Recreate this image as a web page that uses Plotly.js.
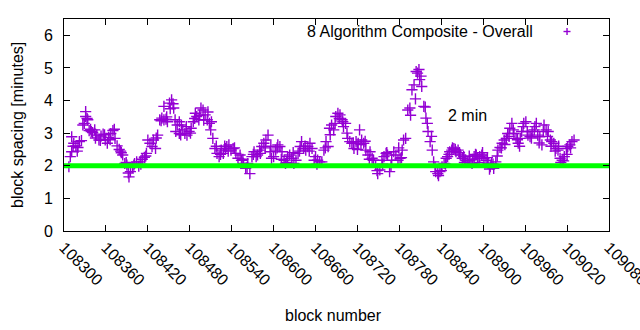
<!DOCTYPE html>
<html>
<head>
<meta charset="utf-8">
<script src="https://cdn.plot.ly/plotly-3.0.1.min.js"></script>
<style>html,body{margin:0;padding:0;background:#fff;}#chart{width:640px;height:330px;}</style>
</head>
<body>
<div id="chart"></div>
<script>
// block numbers and block spacing [minutes]
const blocks = [
108307,108309,108311,108311,108314,108317,108320,108322,108325,108327,108329,108331,108331,108334,108336,108339,108341,108344,108347,108350,108353,108356,108359,108362,108364,108367,108370,108373,108376,108379,108382,108384,108387,108390,108393,108395,108398,108401,108404,108407,108409,108412,108415,108418,108420,
108423,108426,108428,108431,108434,108437,108440,108443,108443,108446,108448,108451,108454,108457,108459,108462,108465,108465,108468,108470,108473,108476,108479,108482,108485,108488,108490,108493,108496,108499,108502,108505,108508,108510,108513,108516,108519,108522,108525,108528,108531,108533,108536,108539,108542,
108546,108549,108552,108554,108557,108560,108563,108566,108569,108572,108575,108577,108580,108583,108586,108589,108592,108595,108597,108600,108603,108606,108609,108612,108615,108617,108620,108623,108626,108629,108632,108635,108638,108640,108643,108646,108649,108652,108655,108658,108660,108663,108666,
108669,108672,108675,108678,108680,108683,108686,108689,108692,108695,108698,108700,108703,108706,108709,108712,108715,108718,108721,108723,108726,108729,108732,108735,108738,108741,108743,108746,108749,108752,108755,108758,108761,108763,108766,108769,108772,108775,108778,108781,108784,108786,108789,
108792,108795,108798,108801,108804,108806,108809,108812,108815,108818,108821,108824,108827,108829,108832,108835,108838,108841,108844,108847,108849,108852,108855,108858,108861,108864,108867,108870,108872,108875,108878,108881,108884,108887,108890,108892,108895,108898,108901,108904,108907,108910,108912,
108915,108918,108921,108924,108927,108930,108933,108935,108938,108941,108944,108947,108950,108953,108955,108958,108961,108964,108967,108970,108973,108976,108978,108981,108984,108987,108990,108993,108996,108998,109001,109004,109007,109010,109013,109016,109019,109021,109024,109027,109030
];
const spacing = [
1.97,2.28,2.43,2.89,2.69,2.61,2.56,2.74,2.77,3.25,3.30,3.51,3.66,3.41,3.08,3.05,3.02,3.10,2.94,2.79,2.91,2.97,2.79,2.69,2.87,2.99,3.08,2.84,2.61,2.50,2.40,2.33,2.07,2.02,1.66,1.82,1.95,2.07,2.12,1.99,2.12,2.20,2.26,2.38,2.79,
2.69,2.59,2.79,2.53,2.94,3.41,3.46,3.41,3.82,3.43,3.35,3.92,4.02,3.77,3.41,3.25,2.99,3.35,3.25,3.10,2.99,2.94,3.05,3.15,3.35,3.61,3.51,3.41,3.77,3.71,3.56,3.41,3.30,3.10,2.84,2.53,2.38,2.28,2.48,2.38,2.53,2.59,2.64,2.48,2.53,
2.38,2.23,2.33,2.17,2.07,1.92,2.07,1.76,2.28,2.43,2.28,2.33,2.48,2.59,2.69,2.79,2.94,2.43,2.23,2.28,2.48,2.64,2.59,2.43,2.17,2.07,2.28,2.33,2.23,2.07,2.17,2.38,2.59,2.74,2.53,2.48,2.59,2.69,2.53,2.17,2.28,2.17,2.12,
2.12,2.48,2.74,2.59,3.15,3.25,3.10,3.51,3.61,3.56,3.41,3.20,3.30,2.84,2.74,2.69,2.53,2.74,2.69,3.10,2.79,2.69,2.48,2.33,2.43,2.23,2.17,2.02,1.76,1.87,2.17,2.28,2.38,2.33,1.82,2.17,2.43,2.33,2.17,2.23,2.48,2.79,2.84,
3.71,3.77,4.33,4.48,4.89,4.84,4.64,4.43,3.82,3.46,3.05,2.74,2.48,2.12,1.82,1.76,1.82,1.97,2.07,2.23,2.28,2.43,2.48,2.53,2.43,2.48,2.33,2.23,2.28,2.17,2.12,2.17,2.07,2.28,2.33,2.23,2.28,2.33,2.23,2.17,2.07,1.97,2.07,
1.92,2.12,2.48,2.56,2.69,2.79,2.84,2.99,3.15,3.30,2.99,2.84,2.69,2.84,3.05,3.30,3.35,2.94,2.89,3.05,3.10,3.30,2.94,2.89,2.64,3.25,3.10,3.05,2.79,2.74,2.69,2.53,2.48,2.23,2.17,2.28,2.53,2.59,2.64,2.74,2.79
];
// additional scattered points of the same series
const extraBlocks = [
108313,108319,108333,108338,108345,108352,108358,108366,108372,108381,108389,108392,108400,108410,108417,108432,108439,108447,108452,108456,108460,108467,108475,108481,108487,108494,108500,108506,108511,108518,108524,108530,108535,108544,
108556,108562,108571,108581,108588,108596,108605,108611,108619,108628,108637,108645,108651,108662,108674,108681,108688,108694,108699,108705,108714,108720,108725,108731,108737,108748,108756,108762,108768,108779,108783,
108796,108803,108808,108811,108817,108820,108826,108831,108836,108840,108846,108851,108856,108860,108866,108873,108880,108885,108889,108894,108899,108906,108909,108914,108920,108926,108931,108937,108943,108949,108952,108957,108963,108969,108974,108980,108986,108992,108997,109003,109008,109011,109015,109020,109025
];
const extraSpacing = [
2.60,2.45,3.45,3.12,2.85,2.78,2.95,2.80,3.12,2.45,2.10,1.78,2.02,2.05,2.30,2.85,3.38,3.50,3.75,3.90,3.05,2.95,3.20,3.00,3.45,3.55,3.40,3.65,3.35,2.60,2.35,2.60,2.45,2.55,
2.20,1.95,2.35,2.38,2.55,2.60,2.55,2.20,2.10,2.40,2.45,2.60,2.45,2.05,2.55,2.95,3.30,3.45,3.35,3.00,2.70,2.50,2.65,2.75,2.20,1.85,2.05,2.40,2.00,2.55,2.25,
3.55,4.05,4.95,4.75,3.80,3.30,2.90,1.95,1.70,1.85,2.05,2.35,2.55,2.50,2.40,2.10,2.30,2.20,2.35,2.10,2.40,2.25,1.90,2.05,2.30,2.55,2.65,2.90,3.10,2.80,2.60,3.20,3.05,2.85,3.20,2.70,3.05,2.90,2.60,2.45,2.60,2.10,2.15,2.35,2.55
];
// 2-minute reference line
const refBlocks = [108300, 109080];
const refSpacing = [2, 2];
// x tick labels
const xTicks = [108300,108360,108420,108480,108540,108600,108660,108720,108780,108840,108900,108960,109020,109080];

const seriesName = "8 Algorithm Composite - Overall";
const refLabel = "2 min";
const xTitle = "block number";
const yTitle = "block spacing [minutes]";

const purple = "#9400d3";
const font = {family: "Liberation Sans, Arial, sans-serif", size: 16, color: "#000"};

const traces = [
  {
    x: blocks.concat(extraBlocks),
    y: spacing.concat(extraSpacing),
    type: "scatter", mode: "markers", name: seriesName,
    marker: {symbol: "cross-thin-open", size: 8, color: purple, line: {color: purple, width: 1.4}},
    showlegend: false, hoverinfo: "skip", cliponaxis: true
  },
  {
    x: refBlocks, y: refSpacing, type: "scatter", mode: "lines", name: refLabel,
    line: {color: "#00ff00", width: 5}, showlegend: false, hoverinfo: "skip"
  }
];

const axisCommon = {
  showline: true, linecolor: "#000", linewidth: 1, mirror: "allticks",
  ticks: "inside", ticklen: 6, tickcolor: "#000", tickwidth: 1,
  showgrid: false, zeroline: false, tickfont: font
};

const layout = {
  width: 640, height: 330,
  margin: {l: 64, r: 31, t: 19, b: 99, pad: 0},
  paper_bgcolor: "#fff", plot_bgcolor: "#fff",
  font: font, showlegend: false,
  xaxis: Object.assign({}, axisCommon, {
    range: [108300, 109080], tickmode: "array", tickvals: xTicks,
    ticktext: xTicks.map(String), tickangle: 45, ticklabeloverflow: "allow"
  }),
  yaxis: Object.assign({}, axisCommon, {
    range: [0, 6.5], tick0: 0, dtick: 1, tickmode: "linear", ticklabelstandoff: 7
  }),
  annotations: [
    {xref: "paper", yref: "paper", x: 0.864, y: 0.941, xanchor: "right", yanchor: "middle",
     text: seriesName, showarrow: false, font: font},
    {xref: "x", yref: "y", x: 108847, y: 3.53, xanchor: "left", yanchor: "middle",
     text: refLabel, showarrow: false, font: font},
    {xref: "paper", yref: "paper", x: 0.4954, y: -0.399, xanchor: "center", yanchor: "middle",
     text: xTitle, showarrow: false, font: font},
    {xref: "paper", yref: "paper", x: -0.0862, y: 0.5, xanchor: "center", yanchor: "middle",
     text: yTitle, textangle: -90, showarrow: false, font: font}
  ],
  shapes: [
    {type: "line", xref: "paper", yref: "paper", x0: 0.9165, x1: 0.9294, y0: 0.941, y1: 0.941,
     line: {color: purple, width: 1.4}},
    {type: "line", xref: "paper", yref: "paper", x0: 0.923, x1: 0.923, y0: 0.9245, y1: 0.9575,
     line: {color: purple, width: 1.4}}
  ]
};

Plotly.newPlot("chart", traces, layout, {staticPlot: true, displayModeBar: false});
</script>
</body>
</html>
